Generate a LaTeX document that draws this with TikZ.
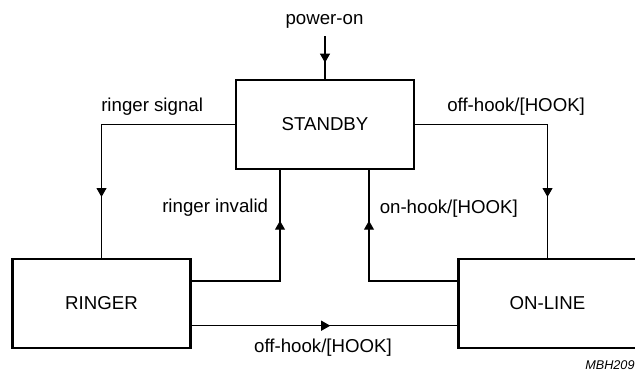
\documentclass[tikz,border=0pt]{standalone}
\usepackage{fontspec}
\setmainfont{Liberation Sans}
\usetikzlibrary{arrows.meta,decorations.markings}
\begin{document}
\begin{tikzpicture}[x=0.75pt,y=-0.75pt,
  statebox/.style={draw,line width=1.6pt,minimum width=133.5pt,minimum height=66.75pt,inner sep=0pt,outer sep=0pt,font=\fontsize{14}{16}\selectfont},
  conn/.style={line width=0.8pt},
  midtip/.style={postaction={decorate},decoration={markings,mark=at position #1 with {\arrow{Triangle[length=6.75pt,width=7.5pt]}}}},
  lbl/.style={inner sep=0pt,font=\fontsize{14}{16}\selectfont}]
\useasboundingbox (0,0) rectangle (635,372);
\clip (0,0) rectangle (635,372);
% states
\node[statebox] (standby) at (325,124.5) {STANDBY};
\node[statebox] (ringer) at (101.5,303.5) {RINGER};
\node[statebox] (online) at (547.5,303.5) {ON-LINE};
% helper coordinates
\coordinate (pw) at (325,36);
\coordinate (ri) at (280,281);
\coordinate (oh) at (369,281);
\coordinate (bt) at (0,325.7);
% connectors
\draw[conn,midtip=-13pt] (pw) -- (standby.north);
\draw[conn,midtip=-46.5pt] (standby.west) -| (ringer.north);
\draw[conn,midtip=-46.5pt] (standby.east) -| (online.north);
\draw[conn,midtip=-38.8pt] (ringer.east |- ri) -| (standby.south -| ri);
\draw[conn,midtip=-38.8pt] (online.west |- oh) -| (standby.south -| oh);
\draw[conn,midtip=104.8pt] (ringer.east |- bt) -- (online.west |- bt);
% labels
\node[lbl,anchor=base] (lpower) at (324.5,24.7) {power-on};
\node[lbl,anchor=base west] (lsig) at (101,111) {ringer signal};
\node[lbl,anchor=base west] (loff1) at (447,111) {off-hook/[HOOK]};
\node[lbl,anchor=base west] (linv) at (162,212.5) {ringer invalid};
\node[lbl,anchor=base west] (lon) at (379.5,213) {on-hook/[HOOK]};
\node[lbl,anchor=base] (loff2) at (323,352.5) {off-hook/[HOOK]};
\node[inner sep=0pt,anchor=base west,font=\fontsize{9.5}{11}\selectfont\itshape] (mbh) at (585,369) {MBH209};
\end{tikzpicture}
\end{document}
